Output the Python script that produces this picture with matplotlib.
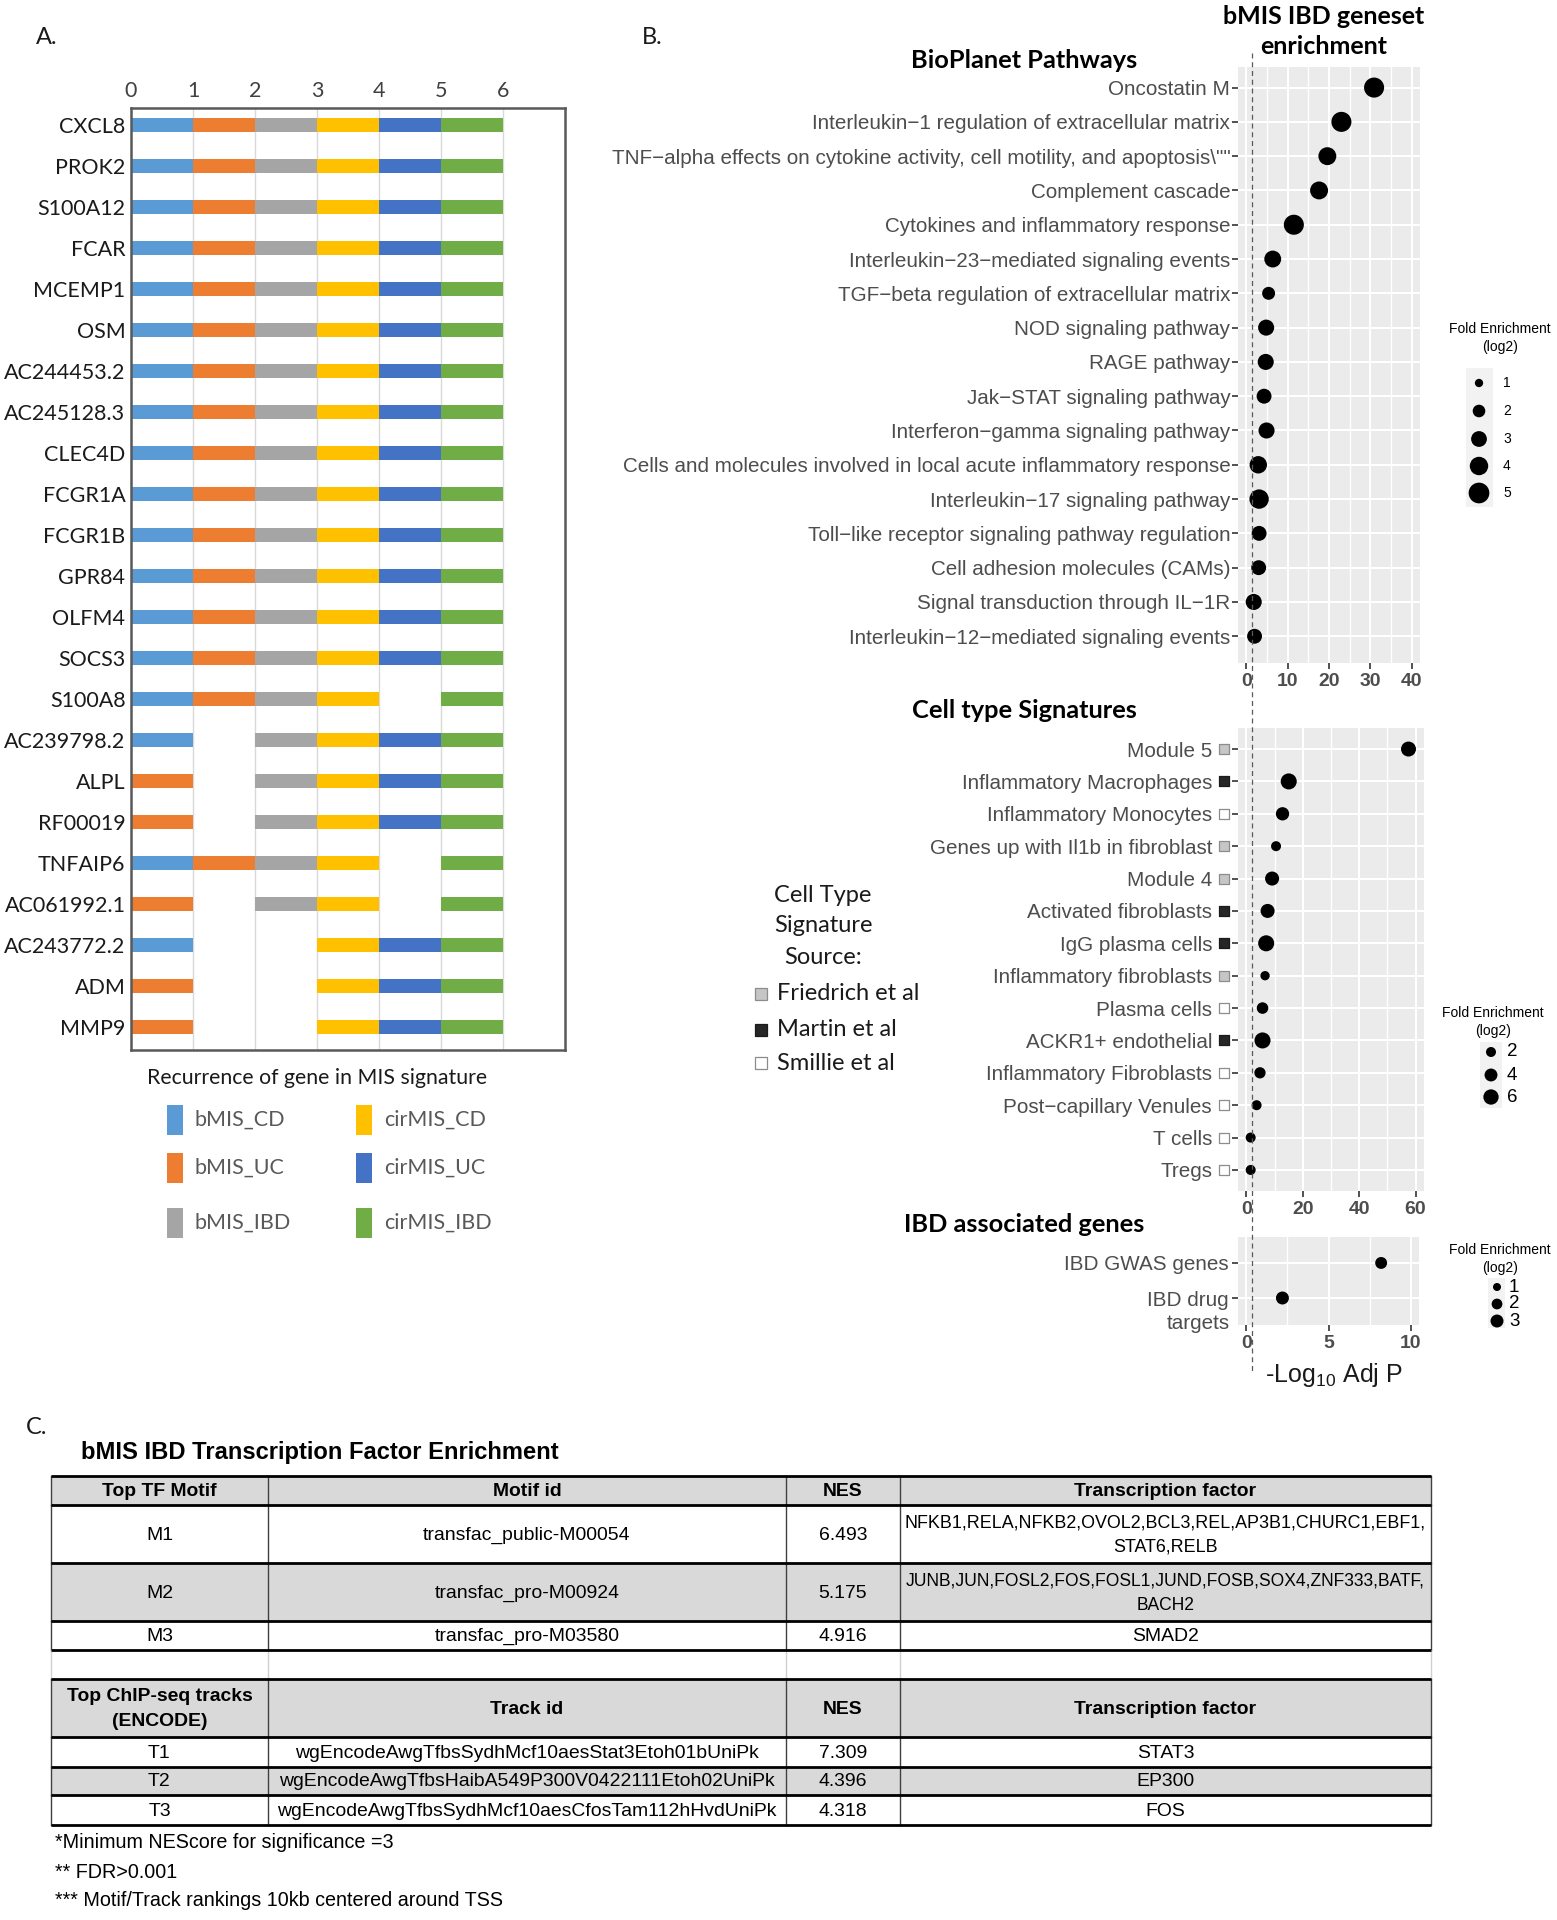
import numpy as np
import matplotlib
matplotlib.use('Agg')
import matplotlib.pyplot as plt
from matplotlib import font_manager
from matplotlib.lines import Line2D
from matplotlib.patches import Rectangle
from matplotlib.transforms import blended_transform_factory

W, H = 1557, 1920

# fonts: pick what is installed
avail = {f.name for f in font_manager.fontManager.ttflist}


def pick(*names):
    for n in names:
        if n in avail:
            return n
    return 'DejaVu Sans'


SANS = pick('Liberation Sans', 'Arial')
NARROW = pick('Liberation Sans Narrow', 'Liberation Sans')
CAL = pick('Lato', 'Open Sans', 'Liberation Sans')
NS = 1.0 if NARROW == 'Liberation Sans Narrow' else 0.9  # shrink when no narrow face

plt.rcParams['mathtext.fontset'] = 'custom'
plt.rcParams['mathtext.rm'] = SANS
plt.rcParams['mathtext.it'] = SANS

# ---------------- Panel A data ----------------
genes = ['CXCL8', 'PROK2', 'S100A12', 'FCAR', 'MCEMP1', 'OSM', 'AC244453.2',
         'AC245128.3', 'CLEC4D', 'FCGR1A', 'FCGR1B', 'GPR84', 'OLFM4', 'SOCS3',
         'S100A8', 'AC239798.2', 'ALPL', 'RF00019', 'TNFAIP6', 'AC061992.1',
         'AC243772.2', 'ADM', 'MMP9']
signatures = ['bMIS_CD', 'bMIS_UC', 'bMIS_IBD', 'cirMIS_CD', 'cirMIS_UC', 'cirMIS_IBD']
sig_colors = ['#5B9BD5', '#ED7D31', '#A5A5A5', '#FFC000', '#4472C4', '#70AD47']

ALL6 = list(signatures)
# signature sitting in each of the six unit slots of a gene's bar (None = empty)
gene_slots = [ALL6] * 14 + [
    ['bMIS_CD', 'bMIS_UC', 'bMIS_IBD', 'cirMIS_CD', None, 'cirMIS_IBD'],        # S100A8
    ['bMIS_CD', None, 'bMIS_IBD', 'cirMIS_CD', 'cirMIS_UC', 'cirMIS_IBD'],      # AC239798.2
    ['bMIS_UC', None, 'bMIS_IBD', 'cirMIS_CD', 'cirMIS_UC', 'cirMIS_IBD'],      # ALPL
    ['bMIS_UC', None, 'bMIS_IBD', 'cirMIS_CD', 'cirMIS_UC', 'cirMIS_IBD'],      # RF00019
    ['bMIS_CD', 'bMIS_UC', 'bMIS_IBD', 'cirMIS_CD', None, 'cirMIS_IBD'],        # TNFAIP6
    ['bMIS_UC', None, 'bMIS_IBD', 'cirMIS_CD', None, 'cirMIS_IBD'],             # AC061992.1
    ['bMIS_CD', None, None, 'cirMIS_CD', 'cirMIS_UC', 'cirMIS_IBD'],            # AC243772.2
    ['bMIS_UC', None, None, 'cirMIS_CD', 'cirMIS_UC', 'cirMIS_IBD'],            # ADM
    ['bMIS_UC', None, None, 'cirMIS_CD', 'cirMIS_UC', 'cirMIS_IBD'],            # MMP9
]

# ---------------- Panel B data ----------------
bio_terms = ['Oncostatin M',
             'Interleukin\u22121 regulation of extracellular matrix',
             'TNF\u2212alpha effects on cytokine activity, cell motility, and apoptosis\\""',
             'Complement cascade',
             'Cytokines and inflammatory response',
             'Interleukin\u221223\u2212mediated signaling events',
             'TGF\u2212beta regulation of extracellular matrix',
             'NOD signaling pathway',
             'RAGE pathway',
             'Jak\u2212STAT signaling pathway',
             'Interferon\u2212gamma signaling pathway',
             'Cells and molecules involved in local acute inflammatory response',
             'Interleukin\u221217 signaling pathway',
             'Toll\u2212like receptor signaling pathway regulation',
             'Cell adhesion molecules (CAMs)',
             'Signal transduction through IL\u22121R',
             'Interleukin\u221212\u2212mediated signaling events']
bio_logp = [30.9, 23.0, 19.6, 17.6, 11.5, 6.4, 5.4, 4.8, 4.7, 4.3, 4.9, 2.9, 3.1, 3.1, 3.0, 1.8, 2.0]
bio_fold = [4.7, 4.7, 3.8, 3.8, 4.7, 3.4, 2.1, 3.1, 3.1, 2.7, 3.1, 3.6, 4.4, 2.7, 2.7, 3.1, 2.7]
bio_keys = [1, 2, 3, 4, 5]

cell_terms = ['Module 5', 'Inflammatory Macrophages', 'Inflammatory Monocytes',
              'Genes up with Il1b in fibroblast', 'Module 4', 'Activated fibroblasts',
              'IgG plasma cells', 'Inflammatory fibroblasts', 'Plasma cells',
              'ACKR1+ endothelial', 'Inflammatory Fibroblasts',
              'Post\u2212capillary Venules', 'T cells', 'Tregs']
cell_source = ['Friedrich', 'Martin', 'Smillie', 'Friedrich', 'Friedrich', 'Martin',
               'Martin', 'Friedrich', 'Smillie', 'Martin', 'Smillie', 'Smillie',
               'Smillie', 'Smillie']
cell_logp = [57.5, 15.0, 12.8, 10.5, 9.1, 7.5, 7.0, 6.6, 5.7, 5.7, 4.8, 3.6, 1.5, 1.5]
cell_fold = [5.7, 6.7, 4.3, 2.0, 4.9, 4.9, 6.7, 1.6, 3.0, 6.7, 2.8, 2.0, 2.0, 2.0]
cell_keys = [2, 4, 6]

sources = ['Friedrich', 'Martin', 'Smillie']
source_labels = ['Friedrich et al', 'Martin et al', 'Smillie et al']
source_fill = {'Friedrich': '#C6C6C6', 'Martin': '#262626', 'Smillie': '#FFFFFF'}
source_edge = {'Friedrich': '#8C8C8C', 'Martin': '#1A1A1A', 'Smillie': '#8C8C8C'}

ibd_terms = ['IBD GWAS genes', 'IBD drug']
ibd_logp = [8.2, 2.2]
ibd_fold = [2.5, 3.0]
ibd_keys = [1, 2, 3]

sig_threshold = -np.log10(0.05)

# ---------------- Panel C data ----------------
tf_header = ['Top TF Motif', 'Motif id', 'NES', 'Transcription factor']
tf_rows = [
    ['M1', 'transfac_public-M00054', '6.493',
     'NFKB1,RELA,NFKB2,OVOL2,BCL3,REL,AP3B1,CHURC1,EBF1,\nSTAT6,RELB'],
    ['M2', 'transfac_pro-M00924', '5.175',
     'JUNB,JUN,FOSL2,FOS,FOSL1,JUND,FOSB,SOX4,ZNF333,BATF,\nBACH2'],
    ['M3', 'transfac_pro-M03580', '4.916', 'SMAD2'],
]
chip_header = ['Top ChIP-seq tracks\n(ENCODE)', 'Track id', 'NES', 'Transcription factor']
chip_rows = [
    ['T1', 'wgEncodeAwgTfbsSydhMcf10aesStat3Etoh01bUniPk', '7.309', 'STAT3'],
    ['T2', 'wgEncodeAwgTfbsHaibA549P300V0422111Etoh02UniPk', '4.396', 'EP300'],
    ['T3', 'wgEncodeAwgTfbsSydhMcf10aesCfosTam112hHvdUniPk', '4.318', 'FOS'],
]
footnotes = ['*Minimum NEScore for significance =3',
             '** FDR>0.001',
             '*** Motif/Track rankings 10kb centered around TSS']


def px_rect(x0, y0, x1, y1):
    return [x0 / W, 1 - y1 / H, (x1 - x0) / W, (y1 - y0) / H]


def dot_area(v, a, b):
    # area scale: squared diameter (px) grows linearly with fold enrichment
    return 0.5184 * (a * np.asarray(v, dtype=float) + b)


fig = plt.figure(figsize=(W / 100, H / 100), dpi=100)

# ================= Panel A =================
ax_a = fig.add_axes(px_rect(131, 108, 565, 1050))
for sig, col in zip(signatures, sig_colors):
    ys, lefts = [], []
    for i, slots in enumerate(gene_slots):
        for j, s in enumerate(slots):
            if s == sig:
                ys.append(i)
                lefts.append(j)
    ax_a.barh(ys, 1, left=lefts, height=0.34, color=col, edgecolor='none', zorder=2)
ax_a.set_xlim(0, 7)
ax_a.set_ylim(len(genes) - 1 + 0.56, -0.41)
ax_a.xaxis.tick_top()
ax_a.set_xticks(range(7))
ax_a.set_yticks(range(len(genes)))
ax_a.set_yticklabels(genes)
ax_a.tick_params(axis='x', length=0, pad=5, labelsize=15.5, labelcolor='#404040')
ax_a.tick_params(axis='y', length=0, pad=4, labelsize=15.5, labelcolor='#1A1A1A')
for lab in ax_a.get_xticklabels() + ax_a.get_yticklabels():
    lab.set_family(CAL)
ax_a.grid(axis='x', color='#D9D9D9', lw=1.0, zorder=0)
ax_a.set_axisbelow(True)
for sp in ax_a.spines.values():
    sp.set_color('#595959')
    sp.set_linewidth(1.8)

# ================= Panel B =================
def gg_panel(rect, xlim, major, minor, labels, pad_top, pad_bot, ypad):
    ax = fig.add_axes(rect)
    ax.set_facecolor('#EBEBEB')
    for sp in ax.spines.values():
        sp.set_visible(False)
    n = len(labels)
    ax.set_xlim(*xlim)
    ax.set_ylim(n - 1 + pad_bot, -pad_top)
    ax.set_xticks(major)
    ax.set_xticks(minor, minor=True)
    ax.set_xticklabels([str(m) for m in major])
    ax.set_yticks(range(n))
    ax.set_yticklabels(labels)
    for lab in ax.get_xticklabels():
        lab.set_family(NARROW)
        lab.set_fontweight('bold')
        lab.set_fontsize(15.5 * NS)
        lab.set_color('#4D4D4D')
    for lab in ax.get_yticklabels():
        lab.set_family(SANS)
        lab.set_fontsize(14.9)
        lab.set_color('#4D4D4D')
    ax.grid(which='major', color='white', lw=1.5)
    ax.grid(which='minor', axis='x', color='white', lw=1.0)
    ax.set_axisbelow(True)
    ax.tick_params(which='major', length=4, width=1.2, color='#333333')
    ax.tick_params(which='minor', length=0)
    ax.tick_params(axis='x', pad=3.5)
    ax.tick_params(axis='y', pad=ypad)
    return ax


ax_bio = gg_panel(px_rect(1238, 67, 1420, 663), (-2, 42), [0, 10, 20, 30, 40],
                  [5, 15, 25, 35], bio_terms, 0.6, 0.78, 1.5)
ax_bio.scatter(bio_logp, range(len(bio_terms)), s=dot_area(bio_fold, 90, -21),
               color='black', linewidths=0, zorder=3)

ax_cell = gg_panel(px_rect(1238, 728, 1424, 1191), (-3, 63), [0, 20, 40, 60],
                   [10, 30, 50], cell_terms, 0.65, 0.65, 14.7)
ax_cell.scatter(cell_logp, range(len(cell_terms)), s=dot_area(cell_fold, 33.5, 33),
                color='black', linewidths=0, zorder=3)
sq_tr = blended_transform_factory(ax_cell.transAxes, ax_cell.transData)
for i, src in enumerate(cell_source):
    ax_cell.scatter([-0.074], [i], marker='s', s=62, transform=sq_tr, clip_on=False,
                    facecolor=source_fill[src], edgecolor=source_edge[src], linewidths=0.9,
                    zorder=4)

ax_ibd = gg_panel(px_rect(1238, 1237, 1419, 1325), (-0.5, 10.5), [0, 5, 10],
                  [2.5, 7.5], ibd_terms, 0.74, 0.77, 3)
ax_ibd.scatter(ibd_logp, range(len(ibd_terms)), s=dot_area(ibd_fold, 52, 12),
               color='black', linewidths=0, zorder=3)
ax_ibd.text(-0.045, 1.72, 'targets', transform=ax_ibd.get_yaxis_transform(),
            ha='right', va='center', family=SANS, fontsize=14.9, color='#4D4D4D')

# significance line shared by the three panels
x_thr = fig.transFigure.inverted().transform(ax_bio.transData.transform((sig_threshold, 0)))[0]
fig.add_artist(Line2D([x_thr, x_thr], [1 - 53 / H, 1 - 1372 / H], transform=fig.transFigure,
                      color='#5A5A5A', lw=0.9, ls=(0, (4, 3)), zorder=20))

# ================= overlay for text / legends / table =================
ov = fig.add_axes([0, 0, 1, 1])
ov.set_xlim(0, W)
ov.set_ylim(H, 0)
ov.axis('off')
ov.patch.set_visible(False)

# panel labels
ov.text(47, 37, 'A.', ha='center', va='center', family=CAL, fontsize=17, color='#1A1A1A')
ov.text(652, 37, 'B.', ha='center', va='center', family=CAL, fontsize=17, color='#1A1A1A')
ov.text(37, 1427, 'C.', ha='center', va='center', family=CAL, fontsize=17, color='#1A1A1A')

# panel A legend
ov.text(147, 1078, 'Recurrence of gene in MIS signature', ha='left', va='center',
        family=CAL, fontsize=15.3, color='#1A1A1A')
leg_rows = [1120, 1168, 1223]
leg_cols = [167, 356]
for k, (sig, col) in enumerate(zip(signatures, sig_colors)):
    cx = leg_cols[k // 3]
    cy = leg_rows[k % 3]
    ov.add_patch(Rectangle((cx, cy - 15), 16, 30, facecolor=col, edgecolor='none'))
    ov.text(cx + 28, cy, sig, ha='left', va='center', family=CAL, fontsize=15.5,
            color='#595959')

# panel B titles
ov.text(1324, 17, 'bMIS IBD geneset', ha='center', va='center', family=CAL,
        fontweight='bold', fontsize=18, color='black')
ov.text(1324, 47, 'enrichment', ha='center', va='center', family=CAL,
        fontweight='bold', fontsize=18, color='black')
for txt, y in [('BioPlanet Pathways', 60), ('Cell type Signatures', 710),
               ('IBD associated genes', 1225)]:
    ov.text(1024, y, txt, ha='center', va='center', family=CAL, fontweight='bold',
            fontsize=18.3, color='black')
ov.text(1334, 1375, r'-Log$_{10}$ Adj P', ha='center', va='center', family=SANS,
        fontsize=18, color='#1A1A1A')

# cell type source legend
for txt, y in [('Cell Type', 895), ('Signature', 925), ('Source:', 957)]:
    ov.text(823, y, txt, ha='center', va='center', family=CAL, fontsize=17, color='#1A1A1A')
for src, lab, y in zip(sources, source_labels, [994, 1030, 1063]):
    ov.add_patch(Rectangle((755, y - 6), 12, 12, facecolor=source_fill[src],
                           edgecolor=source_edge[src], lw=0.9))
    ov.text(777, y, lab, ha='left', va='center', family=CAL, fontsize=17, color='#1A1A1A')


# fold enrichment size legends
def size_legend(title_x, title_y, box, dot_x, dot_ys, keys, a, b, lab_x, lab_fs):
    ov.text(title_x, title_y, 'Fold Enrichment', ha='center', va='center', family=SANS,
            fontsize=10, color='black')
    ov.text(title_x, title_y + 18, '(log2)', ha='center', va='center', family=SANS,
            fontsize=10, color='black')
    x0, y0, x1, y1 = box
    ov.add_patch(Rectangle((x0, y0), x1 - x0, y1 - y0, facecolor='#F2F2F2', edgecolor='none'))
    ov.scatter([dot_x] * len(keys), dot_ys, s=dot_area(keys, a, b), color='black',
               linewidths=0, zorder=3)
    for k, y in zip(keys, dot_ys):
        ov.text(lab_x, y, str(k), ha='left', va='center', family=SANS, fontsize=lab_fs,
                color='black')


size_legend(1500, 329, (1466, 368, 1493, 507), 1479, [383, 411, 439, 466, 493],
            bio_keys, 90, -21, 1503, 10)
size_legend(1493, 1013, (1480, 1042, 1502, 1108), 1491, [1052, 1075, 1097],
            cell_keys, 33.5, 33, 1507, 13.5)
size_legend(1500, 1250, (1488, 1278, 1505, 1328), 1497, [1287, 1304, 1321],
            ibd_keys, 52, 12, 1509, 13.5)

# ================= Panel C table =================
ov.text(81, 1453, 'bMIS IBD Transcription Factor Enrichment', ha='left', va='center',
        family=NARROW, fontweight='bold', fontsize=19 * NS, color='black')

col_edges = [51, 268, 786, 900, 1431]
row_edges = [1476, 1505, 1563, 1621, 1650, 1679, 1737, 1767, 1795, 1825]
table_rows = [tf_header] + tf_rows + [None] + [chip_header] + chip_rows
row_fill = ['#D9D9D9', 'white', '#D9D9D9', 'white', 'white', '#D9D9D9', 'white',
            '#D9D9D9', 'white']
row_bold = [True, False, False, False, False, True, False, False, False]

renderer = fig.canvas.get_renderer()
for r, cells in enumerate(table_rows):
    y0, y1 = row_edges[r], row_edges[r + 1]
    ov.add_patch(Rectangle((col_edges[0], y0), col_edges[-1] - col_edges[0], y1 - y0,
                           facecolor=row_fill[r], edgecolor='none'))
    vcol = '#D0D0D0' if cells is None else '#404040'
    for x in col_edges:
        ov.plot([x, x], [y0, y1], color=vcol, lw=1.0)
    if cells is None:
        continue
    for c, txt in enumerate(cells):
        xc = (col_edges[c] + col_edges[c + 1]) / 2
        fs = 15.5 * NS
        t = ov.text(xc, (y0 + y1) / 2 + 1, txt, ha='center', va='center', family=NARROW,
                    fontsize=fs, linespacing=1.6, color='black',
                    fontweight='bold' if row_bold[r] else 'normal')
        # shrink long entries so they stay inside their cell
        room = col_edges[c + 1] - col_edges[c] - 10
        width = t.get_window_extent(renderer).width
        if width > room:
            t.set_fontsize(fs * room / width)

for y in row_edges:
    ov.plot([col_edges[0], col_edges[-1]], [y, y], color='black', lw=2.0,
            solid_capstyle='butt')

for txt, y in zip(footnotes, [1843, 1872, 1900]):
    ov.text(55, y, txt, ha='left', va='center', family=NARROW, fontsize=15.8 * NS,
            color='black')

fig.savefig('out.png', dpi=100)
